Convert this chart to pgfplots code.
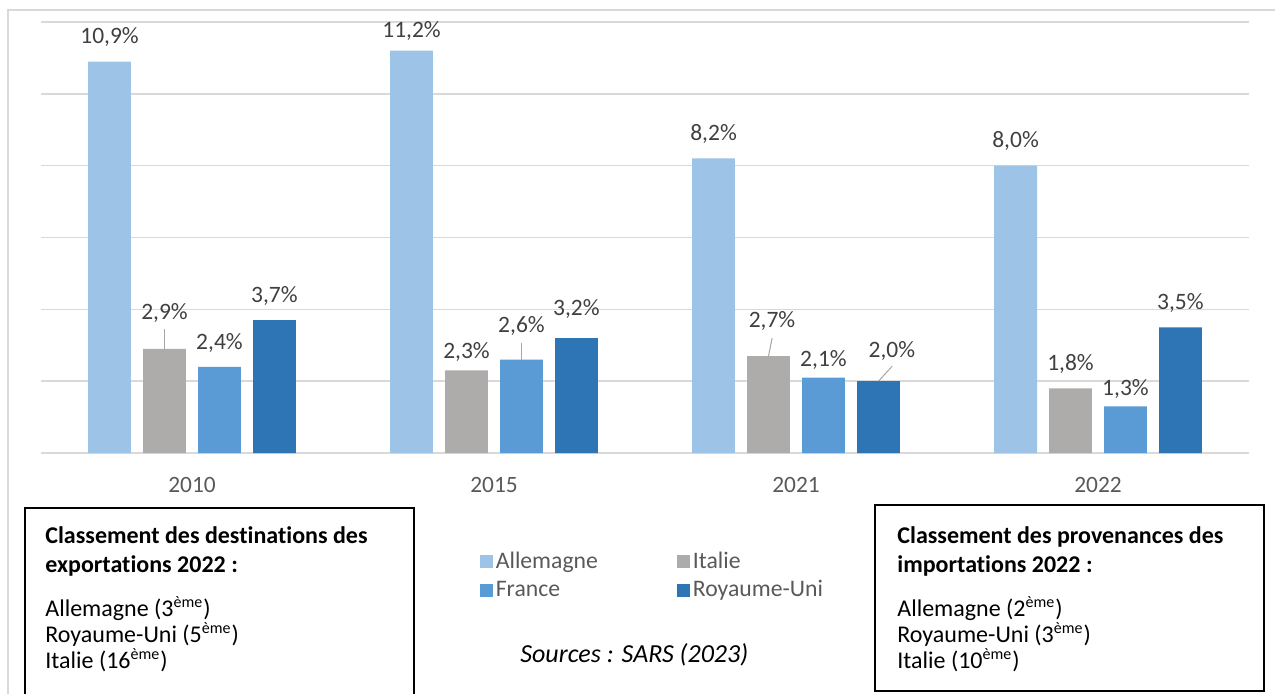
\documentclass[border=0pt]{standalone}
\usepackage{fontspec}
\setmainfont[Ligatures=NoCommon]{Carlito}
\usepackage{pgfplots}
\usepackage{pgfplotstable}
\pgfplotsset{compat=1.18}

\definecolor{cAll}{HTML}{9DC3E6}
\definecolor{cIta}{HTML}{AEABAB}
\definecolor{cFra}{HTML}{5B9BD5}
\definecolor{cRU}{HTML}{2E75B6}
\definecolor{gridc}{HTML}{D9D9D9}
\definecolor{lbl}{HTML}{404040}
\definecolor{tickc}{HTML}{595959}
\definecolor{leader}{HTML}{A6A6A6}

% x = year index, y = share (%), dx/dy = label offset in px
\pgfplotstableread{
x y dx dy
0 10.9 0 26
1 11.2 0 21
2 8.2 0 25
3 8.0 0 26
}\tAll
\pgfplotstableread{
x y dx dy
0 2.9 0 37
1 2.3 0 19
2 2.7 3.5 36
3 1.8 0 25
}\tIta
\pgfplotstableread{
x y dx dy
0 2.4 0 25
1 2.6 0 35
2 2.1 0 19
3 1.3 0 18
}\tFra
\pgfplotstableread{
x y dx dy
0 3.7 0 25
1 3.2 0 30
2 2.0 13.5 31
3 3.5 0 25
}\tRU

\begin{document}
\begin{tikzpicture}
\useasboundingbox (0,0) rectangle (637.5pt,346.5pt);
\begin{axis}[
    name=ax, at={(20.5pt,120pt)}, anchor=south west,
    scale only axis, width=604pt, height=215.5pt,
    xmin=-0.5, xmax=3.5, ymin=0, ymax=12,
    ybar, bar width=0.142,
    xtick={0,1,2,3}, xticklabels={2010,2015,2021,2022},
    xticklabel style={anchor=base, yshift=-19.5pt, text=tickc, font=\fontsize{11.7}{14}\selectfont},
    ytick={0,2,...,12}, yticklabels={},
    ymajorgrids, grid style={gridc, line width=0.75pt},
    axis line style={draw=none},
    major tick length=0pt,
    clip=false,
    visualization depends on={\thisrow{dx} \as \dx},
    visualization depends on={\thisrow{dy} \as \dy},
    nodes near coords={\pgfmathprintnumber[fixed,fixed zerofill,precision=1,use comma,assume math mode=true]{\pgfplotspointmeta}\%},
    every node near coord/.append style={anchor=base, inner sep=0pt, text=lbl,
        font=\fontsize{11.75}{14}\selectfont,
        xshift={\dx*0.5pt}, yshift={(\dy-7.5)*0.5pt}},
    legend columns=2,
    legend cell align=left,
    legend style={draw=none, fill=none, at={(0.358,-0.215)}, anchor=north west,
        font=\fontsize{11.85}{14}\selectfont, text=tickc,
        nodes={inner xsep=1.5pt, inner ysep=1pt},
        /tikz/every even column/.append style={column sep=38pt}, row sep=2.5pt},
    legend image code/.code={\fill[#1] (0pt,-3.25pt) rectangle (6.5pt,3.25pt);},
]
\addplot[fill=cAll, draw=none, bar shift=-0.273] table[x=x,y=y] {\tAll};
\addplot[fill=cIta, draw=none, bar shift=-0.091] table[x=x,y=y] {\tIta};
\addplot[fill=cFra, draw=none, bar shift=0.091] table[x=x,y=y] {\tFra};
\addplot[fill=cRU, draw=none, bar shift=0.273] table[x=x,y=y] {\tRU};
\legend{Allemagne, Italie, France, Royaume-Uni}
% leader lines
\draw[leader, line width=0.5pt] (axis cs:-0.091,2.9) -- (axis cs:-0.091,3.46);
\draw[leader, line width=0.5pt] (axis cs:1.091,2.6) -- (axis cs:1.091,3.07);
\draw[leader, line width=0.5pt] (axis cs:1.909,2.7) -- (axis cs:1.921,3.20);
\draw[leader, line width=0.5pt] (axis cs:2.273,2.0) -- (axis cs:2.319,2.42);
\end{axis}
\begin{scope}[shift={(0pt,346.5pt)}, x=0.5pt, y=-0.5pt]
  \draw[gridc, line width=0.6pt] (8,700) -- (8,10) -- (1280,10);
  \draw[black, line width=0.6pt] (25,700) -- (25,508) -- (414,508) -- (414,700);
  \draw[black, line width=0.6pt] (875,505) rectangle (1264,691);
  \begin{scope}[every node/.style={anchor=base west, inner sep=0pt, font=\fontsize{12}{14}\selectfont}]
    \node at (45,543) {\bfseries Classement des destinations des};
    \node at (45,572) {\bfseries exportations 2022 :};
    \node at (45,616) {Allemagne (3\textsuperscript{ème})};
    \node at (45,642) {Royaume-Uni (5\textsuperscript{ème})};
    \node at (45,668) {Italie (16\textsuperscript{ème})};
    \node at (897,543) {\bfseries Classement des provenances des};
    \node at (897,572) {\bfseries importations 2022 :};
    \node at (897,616) {Allemagne (2\textsuperscript{ème})};
    \node at (897,642) {Royaume-Uni (3\textsuperscript{ème})};
    \node at (897,668) {Italie (10\textsuperscript{ème})};
  \end{scope}
  \node[anchor=base west, inner sep=0pt, font=\fontsize{13}{15}\selectfont\itshape] at (520,662) {Sources : SARS (2023)};
\end{scope}
\end{tikzpicture}
\end{document}
